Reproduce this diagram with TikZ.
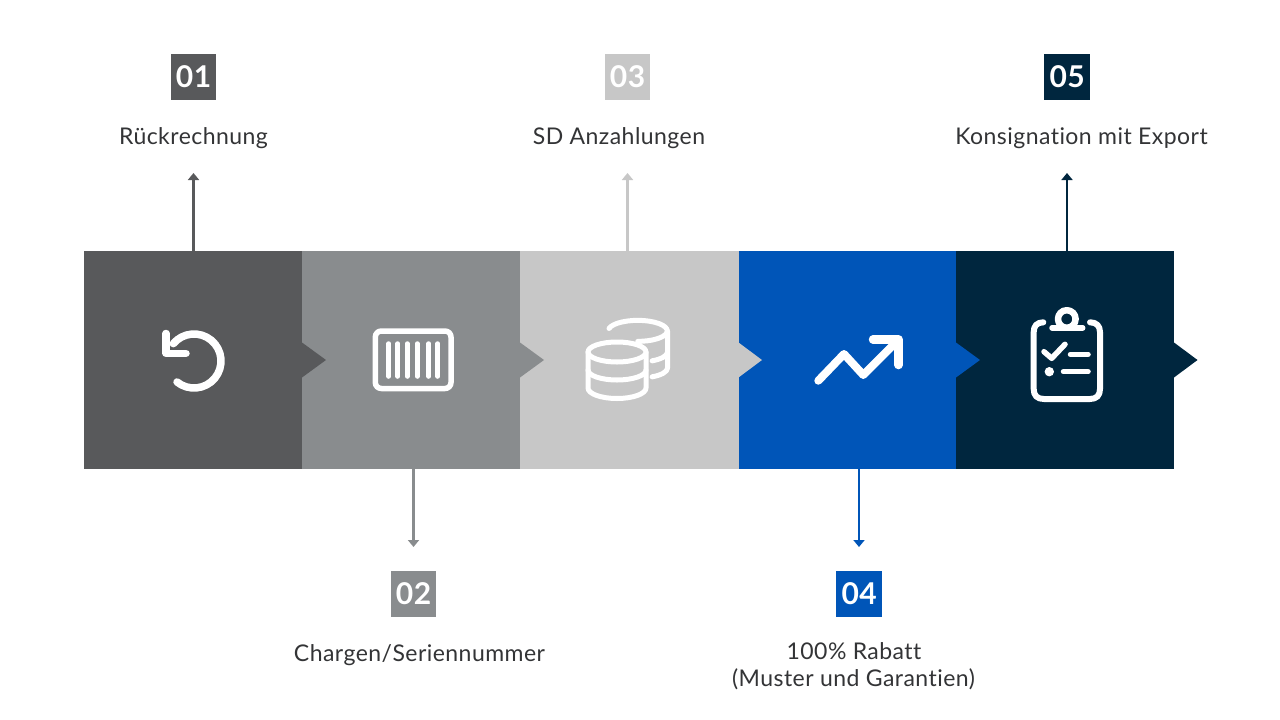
\documentclass[tikz,border=0pt]{standalone}
\usepackage{fontspec}
\setmainfont{Lato}[LetterSpace=2.0,Ligatures={NoCommon,NoRare}]
\usetikzlibrary{arrows.meta}
\definecolor{cA}{HTML}{58595B}
\definecolor{cB}{HTML}{898C8E}
\definecolor{cC}{HTML}{C7C7C7}
\definecolor{cD}{HTML}{0055B8}
\definecolor{cE}{HTML}{00263E}
\definecolor{txt}{HTML}{333436}
\tikzset{
  block/.style={minimum width=218pt,minimum height=218pt,inner sep=0pt,outer sep=0pt,draw=none},
  badge/.style={minimum width=45.5pt,minimum height=45.5pt,inner sep=0pt,outer sep=0pt,text=white,font=\fontsize{30}{32}\selectfont\bfseries},
  lab/.style={anchor=base,text=txt,font=\fontsize{23}{27}\selectfont,align=center,inner sep=0pt},
  conn/.style={line width=2.4pt,-{Triangle[width=11pt,length=7pt]}},
  icon/.style={draw=white,line width=5pt,line cap=round,line join=round,fill=none},
}
\begin{document}
\begin{tikzpicture}[x=1pt,y=1pt]
\useasboundingbox (0,0) rectangle (1280,-720);
\fill[white] (0,0) rectangle (1280,-720);
% blocks
\node[block,fill=cA] (b1) at (193,-360) {};
\node[block,fill=cB] (b2) at (411,-360) {};
\node[block,fill=cC,minimum width=218.5pt] (b3) at (629.25,-360) {};
\node[block,fill=cD,minimum width=217.5pt] (b4) at (847.25,-360) {};
\node[block,fill=cE] (b5) at (1065,-360) {};
% pointers
\fill[cA] (302,-342.5) -- (326,-360) -- (302,-377.5) -- cycle;
\fill[cB] (520,-342.5) -- (544,-360) -- (520,-377.5) -- cycle;
\fill[cC] (738.5,-342.5) -- (762,-360) -- (738.5,-377.5) -- cycle;
\fill[cD] (956,-342.5) -- (980,-360) -- (956,-377.5) -- cycle;
\fill[cE] (1174,-342.5) -- (1197.5,-360) -- (1174,-377.5) -- cycle;
% badges
\node[badge,fill=cA] (n1) at (193.5,-76.8) {01};
\node[badge,fill=cB] (n2) at (413.5,-594) {02};
\node[badge,fill=cC] (n3) at (627.5,-76.8) {03};
\node[badge,fill=cD] (n4) at (859.2,-594) {04};
\node[badge,fill=cE] (n5) at (1067.2,-76.8) {05};
% labels
\node[lab] (l1) at (193.5,-144) {Rückrechnung};
\node[lab] (l2) at (419.5,-661) {Chargen/Seriennummer};
\node[lab] (l3) at (619,-144) {SD Anzahlungen};
\node[lab] (l4) at (854,-659) {100\% Rabatt};
\node[lab] (l4b) at (853.5,-686) {(Muster und Garantien)};
\node[lab] (l5) at (1081.5,-144) {Konsignation mit Export};
% connector ends
\coordinate (t1) at (193.5,-173);
\coordinate (t2) at (413.5,-547);
\coordinate (t3) at (627.5,-173);
\coordinate (t4) at (859,-547);
\coordinate (t5) at (1067,-173);
\draw[conn,cA] (t1 |- b1.north) -- (t1);
\draw[conn,cB] (t2 |- b2.south) -- (t2);
\draw[conn,cC] (t3 |- b3.north) -- (t3);
\draw[conn,cD] (t4 |- b4.south) -- (t4);
\draw[conn,cE] (t5 |- b5.north) -- (t5);
% icon 1: undo
\draw[icon,line width=7.5pt] (194,-361) ++(140:27) arc (140:-129:27);
\draw[icon,line width=7.5pt] (166,-333.5) -- (166,-353.3) -- (186,-353.3);
% icon 2: barcode
\draw[icon,line width=5.5pt,rounded corners=6pt] (375.3,-331) -- (451,-331) -- (451,-388.5) -- (375.3,-388.5) -- cycle;
\foreach \x in {388.7,397.7,407.3,417.3,428.7,437.7}
  \draw[icon,line width=4.5pt] (\x,-343.5) -- (\x,-376.5);
% icon 3: coins, back stack
\draw[icon,line width=5pt] (609,-328.5) arc[start angle=167,end angle=-90,x radius=29.5,y radius=10.5];
\draw[icon,line width=5pt] (667.5,-331) -- (667.5,-368) arc[start angle=0,end angle=-62,x radius=29,y radius=10];
\draw[icon,line width=5pt] (667.5,-352) arc[start angle=0,end angle=-62,x radius=29,y radius=10];
% front stack
\draw[icon,line width=5pt] (617,-352) ellipse[x radius=29,y radius=10];
\draw[icon,line width=5pt] (588,-352) -- (588,-388) arc[start angle=180,end angle=360,x radius=29,y radius=10.5] -- (646,-352);
\draw[icon,line width=5pt] (588,-370) arc[start angle=180,end angle=360,x radius=29,y radius=10];
% icon 4: trend
\draw[icon,line width=8pt] (818.3,-380.7) -- (844,-354) -- (863.3,-375) -- (898.3,-340);
\draw[icon,line width=8.5pt] (873,-339.5) -- (898.5,-339.5) -- (898.5,-365);
% icon 5: clipboard
\draw[icon,line width=6pt] (1043.3,-322.3) .. controls (1037,-322.3) and (1033.7,-326) .. (1033.7,-332) -- (1033.7,-389) .. controls (1033.7,-395.5) and (1037,-399) .. (1044,-399) -- (1090,-399) .. controls (1096.5,-399) and (1100,-395.5) .. (1100,-389) -- (1100,-332) .. controls (1100,-326) and (1096.5,-322.3) .. (1090,-322.3);
\draw[icon,line width=5.5pt] (1052,-327.8) -- (1082.7,-327.8);
\draw[icon,line width=6.5pt] (1066.8,-319) circle (8.8);
\fill[white] (1056,-325) -- (1077.5,-325) -- (1080,-328) -- (1053.5,-328) -- cycle;
\draw[icon,line width=5.5pt] (1044,-351.7) -- (1051.7,-358.3) -- (1065,-344.3);
\draw[icon,line width=5.5pt] (1070.5,-354.3) -- (1088,-354.3);
\fill[white] (1049.3,-371.7) circle (4.7);
\draw[icon,line width=5.5pt] (1063.5,-371.7) -- (1088,-371.7);
\end{tikzpicture}
\end{document}
